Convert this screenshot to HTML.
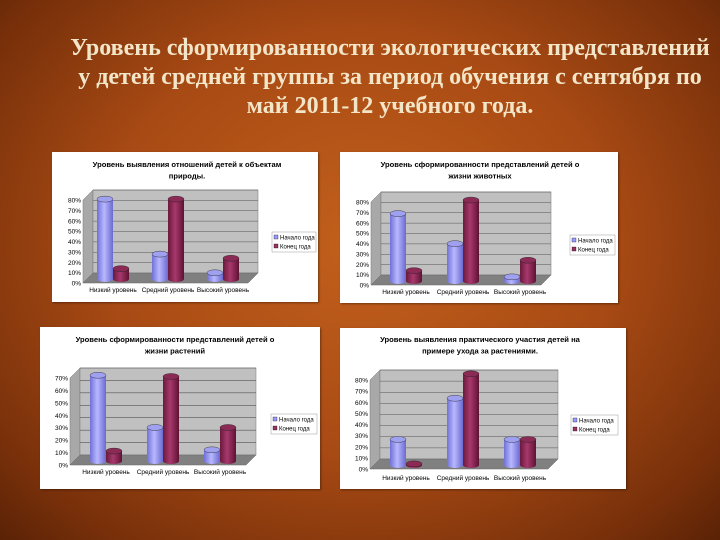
<!DOCTYPE html>
<html><head><meta charset="utf-8">
<style>
html,body{margin:0;padding:0}
body{width:720px;height:540px;overflow:hidden;position:relative;
background:radial-gradient(ellipse at 50% 45%,#c2601c 0%,#a84a14 50%,#78300a 85%,#5a2206 100%);
font-family:"Liberation Sans","DejaVu Sans",sans-serif}
#title{position:absolute;left:50px;top:34px;width:680px;text-align:center;
font-family:"Liberation Serif","DejaVu Serif",serif;font-weight:bold;font-size:24px;line-height:29px;color:#f3e6c8;white-space:nowrap}
.panel{position:absolute;background:#fff;box-shadow:1px 1px 2px rgba(0,0,0,.4)}
svg text{font-family:"Liberation Sans","DejaVu Sans",sans-serif}
</style></head><body>
<div id="title">Уровень сформированности экологических представлений<br>у детей средней группы за период обучения с сентября по<br>май 2011-12 учебного года.</div>
<div id="c1" class="panel" style="left:52px;top:152px;width:266px;height:150px"></div>
<div id="c2" class="panel" style="left:340px;top:152px;width:278px;height:151px"></div>
<div id="c3" class="panel" style="left:40px;top:327px;width:280px;height:162px"></div>
<div id="c4" class="panel" style="left:340px;top:328px;width:286px;height:161px"></div>
<script>
const categories = ["Низкий уровень","Средний уровень","Высокий уровень"];
const seriesNames = ["Начало года","Конец года"];
const chart1Start = [77,24,6];
const chart1End = [10,77,20];
const chart2Start = [65,36,4];
const chart2End = [10,78,20];
const chart3Start = [69,27,9];
const chart3End = [8,68,27];
const chart4Start = [23,60,23];
const chart4End = [1,82,23];
const chart1Ticks = [0,10,20,30,40,50,60,70,80];
const chart2Ticks = [0,10,20,30,40,50,60,70,80];
const chart3Ticks = [0,10,20,30,40,50,60,70];
const chart4Ticks = [0,10,20,30,40,50,60,70,80];
const titles = [
 ["Уровень выявления отношений детей к объектам","природы."],
 ["Уровень сформированности представлений детей о","жизни животных"],
 ["Уровень сформированности представлений детей о","жизни растений"],
 ["Уровень выявления практического участия детей на","примере ухода за растениями."]
];
const NS="http://www.w3.org/2000/svg";
function mk(tag,attrs,parent){const e=document.createElementNS(NS,tag);for(const k in attrs)e.setAttribute(k,attrs[k]);parent.appendChild(e);return e;}
function render(id,w,h,L,starts,ends,ticks,title){
 const svg=mk('svg',{width:w,height:h,viewBox:`0 0 ${w} ${h}`},document.getElementById(id));
 const defs=mk('defs',{},svg);
 const g1=mk('linearGradient',{id:id+'gb'},defs);
 mk('stop',{offset:'0','stop-color':'#7070d8'},g1);mk('stop',{offset:'0.45','stop-color':'#b8b8ff'},g1);mk('stop',{offset:'1','stop-color':'#6a6ad0'},g1);
 const g2=mk('linearGradient',{id:id+'gr'},defs);
 mk('stop',{offset:'0','stop-color':'#6a1a3c'},g2);mk('stop',{offset:'0.45','stop-color':'#a8386c'},g2);mk('stop',{offset:'1','stop-color':'#5e1234'},g2);
 const max=ticks[ticks.length-1], d=10;
 const y=v=>L.y0-(L.y0-L.yMax)*v/max;
 const ax=L.wallL-d;
 mk('polygon',{points:`${ax},${y(max)} ${L.wallL},${y(max)-d} ${L.wallL},${L.y0-d} ${ax},${L.y0}`,fill:'#a8a8a8',stroke:'#777','stroke-width':0.5},svg);
 mk('rect',{x:L.wallL,y:y(max)-d,width:L.wallR-L.wallL,height:L.y0-y(max),fill:'#c0c0c0',stroke:'#777','stroke-width':0.5},svg);
 mk('polygon',{points:`${ax},${L.y0} ${L.wallL},${L.y0-d} ${L.wallR},${L.y0-d} ${L.wallR-d},${L.y0}`,fill:'#808080',stroke:'#666','stroke-width':0.5},svg);
 ticks.forEach(t=>{
  if(t>0){const gl=mk('line',{x1:L.wallL,x2:L.wallR,y1:y(t)-d,y2:y(t)-d,stroke:'#555','stroke-width':0.6},svg);
  
  }
  const tx=mk('text',{x:ax-2,y:y(t)+2.5,'font-size':6.5,'text-anchor':'end',fill:'#000'},svg);
  tx.textContent=t+'%';
  
  
 });
 const bw=16, ry=3;
 function bar(cx,v,fill,top,nm){
  const x0=cx-bw/2, yt=y(v)-4, yb=L.y0-4;
  const g=mk('g',{},svg);
  
  
  mk('rect',{x:x0,y:yt,width:bw,height:Math.max(0,yb-yt),fill:`url(#${fill})`},g);
  mk('ellipse',{cx:cx,cy:yb,rx:bw/2,ry:ry,fill:`url(#${fill})`},g);
  mk('ellipse',{cx:cx,cy:yt,rx:bw/2,ry:ry,fill:top,stroke:'#222','stroke-width':0.4},g);
 }
 categories.forEach((c,i)=>{
  const cx=L.c0+i*L.step;
  bar(cx-bw/2,starts[i],id+'gb','#a0a0f0','bar-start-'+i);
  bar(cx+bw/2,ends[i],id+'gr','#8a2a55','bar-end-'+i);
  const t=mk('text',{x:cx,y:L.cy,'font-size':6.5,'text-anchor':'middle',fill:'#000'},svg);
  t.textContent=c;
  
  
 });
 title.forEach((s,i)=>{const t=mk('text',{x:L.tx,y:L.ty+i*11.5,'font-size':7.6,'font-weight':'bold','text-anchor':'middle',fill:'#000'},svg);t.textContent=s;
  
  });
 const lg=mk('g',{},svg);
 
 
 mk('rect',{x:L.lx,y:L.ly,width:L.lw,height:20,fill:'#fff',stroke:'#999','stroke-width':0.5},lg);
 ['#9999ff','#993366'].forEach((col,i)=>{
  mk('rect',{x:L.lx+2,y:L.ly+3+i*9,width:4,height:4,fill:col,stroke:'#000','stroke-width':0.3},lg);
  const t=mk('text',{x:L.lx+8,y:L.ly+7.5+i*9,'font-size':6,fill:'#000'},lg);t.textContent=seriesNames[i];
 });
}
render('c1',266,150,{y0:131,yMax:48,wallL:41,wallR:206,c0:61,step:55,cy:140,lx:220,ly:80,lw:44,tx:135,ty:15},chart1Start,chart1End,chart1Ticks,titles[0]);
render('c2',278,151,{y0:133,yMax:50,wallL:41,wallR:211,c0:66,step:57,cy:142,lx:230,ly:83,lw:45,tx:140,ty:15},chart2Start,chart2End,chart2Ticks,titles[1]);
render('c3',280,162,{y0:138,yMax:51,wallL:40,wallR:216,c0:66,step:57,cy:147,lx:231,ly:87,lw:46,tx:135,ty:15},chart3Start,chart3End,chart3Ticks,titles[2]);
render('c4',286,161,{y0:141,yMax:52,wallL:40,wallR:218,c0:66,step:57,cy:152,lx:231,ly:87,lw:47,tx:140,ty:14},chart4Start,chart4End,chart4Ticks,titles[3]);
</script>
</body></html>
